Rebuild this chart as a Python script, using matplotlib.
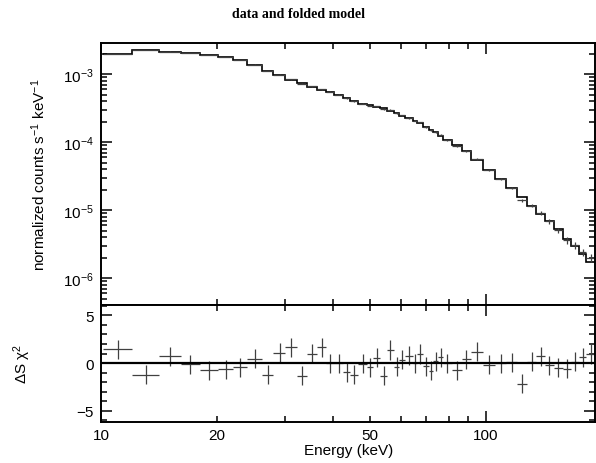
import matplotlib
matplotlib.use("Agg")
import matplotlib.pyplot as plt
import numpy as np
from matplotlib.ticker import FixedLocator, FixedFormatter, MultipleLocator, LogLocator, NullFormatter

plt.rcParams["font.family"] = ["Liberation Sans", "DejaVu Sans"]
plt.rcParams["mathtext.fontset"] = "custom"
plt.rcParams["mathtext.rm"] = "Liberation Sans"
plt.rcParams["mathtext.it"] = "Liberation Sans:italic"
plt.rcParams["mathtext.default"] = "regular"

# channel bin edges (keV)
bin_edges = [10.12, 12.03, 14.11, 16.11, 18.05, 20.13, 22.02, 24.02, 26.20, 28.03,
             30.15, 32.24, 34.27, 36.46, 38.34, 40.36, 42.60, 44.47, 46.59, 49.14,
             50.87, 53.20, 55.31, 57.68, 59.61, 61.78, 64.50, 66.07, 68.52, 71.11,
             72.96, 75.18, 77.46, 81.45, 86.46, 91.43, 98.22, 105.5, 113.0, 120.1,
             127.6, 135.1, 142.3, 150.2, 158.2, 166.6, 174.7, 182.2, 191.9]

# folded model (normalized counts s^-1 keV^-1)
model = [1.97e-3, 2.28e-3, 2.13e-3, 2.04e-3, 1.92e-3, 1.78e-3, 1.61e-3, 1.37e-3,
         1.12e-3, 9.67e-4, 8.24e-4, 7.30e-4, 6.50e-4, 5.87e-4, 5.49e-4, 4.97e-4,
         4.47e-4, 4.06e-4, 3.65e-4, 3.47e-4, 3.31e-4, 3.12e-4, 2.90e-4, 2.67e-4,
         2.46e-4, 2.23e-4, 2.07e-4, 1.90e-4, 1.68e-4, 1.52e-4, 1.40e-4, 1.25e-4,
         1.06e-4, 9.03e-5, 7.38e-5, 5.44e-5, 3.95e-5, 2.90e-5, 2.10e-5, 1.56e-5,
         1.16e-5, 8.65e-6, 6.97e-6, 5.26e-6, 3.82e-6, 3.03e-6, 2.26e-6, 1.72e-6]

# residuals (data - model) / error
residuals = [1.44, -1.23, 0.70, -0.14, -0.74, -0.65, -0.46, 0.44, -1.23, 1.10,
             1.65, -1.33, 1.00, 1.65, 0.00, 0.00, -0.95, -1.25, -0.10, -0.46,
             0.53, -1.33, 1.37, -0.39, 0.32, 0.74, 0.00, 0.95, -0.32, -0.80,
             0.17, 0.60, 0.00, -0.74, 0.39, 1.17, -0.19, 0.00, 0.10, -2.17,
             0.16, 0.73, -0.25, -0.50, -0.60, 0.14, 0.60, 0.95]

# fractional 1-sigma errors of the data
rel_err = [0.006, 0.006, 0.007, 0.007, 0.008, 0.008, 0.009, 0.009, 0.010, 0.011,
           0.011, 0.012, 0.012, 0.013, 0.014, 0.014, 0.015, 0.016, 0.016, 0.017,
           0.018, 0.019, 0.019, 0.020, 0.021, 0.022, 0.023, 0.024, 0.025, 0.026,
           0.027, 0.028, 0.029, 0.030, 0.032, 0.034, 0.036, 0.040, 0.045, 0.050,
           0.058, 0.065, 0.075, 0.085, 0.100, 0.115, 0.130, 0.160]

edges = np.array(bin_edges)
mod = np.array(model)
res = np.array(residuals)
err = mod * np.array(rel_err)
data = mod + res * err
centers = 0.5 * (edges[:-1] + edges[1:])
halfw = 0.5 * (edges[1:] - edges[:-1])

fig = plt.figure(figsize=(5.96, 4.64), dpi=100)
left, right = 101 / 596, 595 / 596
ax = fig.add_axes([left, 1 - 306 / 464, right - left, (306 - 44) / 464])
axr = fig.add_axes([left, 1 - 423 / 464, right - left, (423 - 306) / 464], sharex=ax)

dcol = "0.25"
ax.errorbar(centers, data, xerr=halfw, yerr=err, fmt="none", ecolor=dcol, elinewidth=0.9)
ax.stairs(mod, edges, baseline=None, color="black", linewidth=1.2)
ax.set_yscale("log")
ax.set_xscale("log")
ax.set_xlim(10, 192)
ax.set_ylim(4.05e-7, 2.86e-3)
ax.yaxis.set_minor_locator(LogLocator(base=10, subs=np.arange(2, 10)))
ax.yaxis.set_minor_formatter(NullFormatter())

axr.errorbar(centers, res, xerr=halfw, yerr=1.0, fmt="none", ecolor=dcol, elinewidth=0.9)
axr.axhline(0, color="black", linewidth=1.6)
axr.set_ylim(-6.2, 6.1)
axr.set_yticks([-5, 0, 5])
axr.yaxis.set_minor_locator(MultipleLocator(1))

for a in (ax, axr):
    a.xaxis.set_major_locator(FixedLocator([10, 100]))
    a.xaxis.set_minor_locator(FixedLocator([20, 30, 40, 50, 60, 70, 80, 90]))
    a.tick_params(which="both", direction="in", top=True, right=True, width=1.1,
                  labelsize=11, pad=5)
    a.tick_params(which="major", length=8)
    a.tick_params(which="minor", length=4)
    for s in a.spines.values():
        s.set_linewidth(1.4)

ax.tick_params(which="both", labelbottom=False)
axr.tick_params(axis="x", which="both", pad=4)
axr.xaxis.set_major_formatter(FixedFormatter(["10", "100"]))
axr.xaxis.set_minor_formatter(FixedFormatter(["20", "", "", "50", "", "", "", ""]))

fig.text(0.5, 1 - 14 / 464, "data and folded model", ha="center", va="center",
         family="Liberation Serif", weight="bold", fontsize=10)
fig.text(39 / 596, 1 - 175 / 464, "normalized counts s$^{-1}$ keV$^{-1}$", rotation=90,
         ha="center", va="center", fontsize=11)
fig.text(22 / 596, 1 - 364 / 464, "ΔS χ$^{2}$", rotation=90, ha="center", va="center",
         fontsize=11)
fig.text(349 / 596, 1 - 451 / 464, "Energy (keV)", ha="center", va="center", fontsize=11)

fig.savefig("out.png", dpi=100)
